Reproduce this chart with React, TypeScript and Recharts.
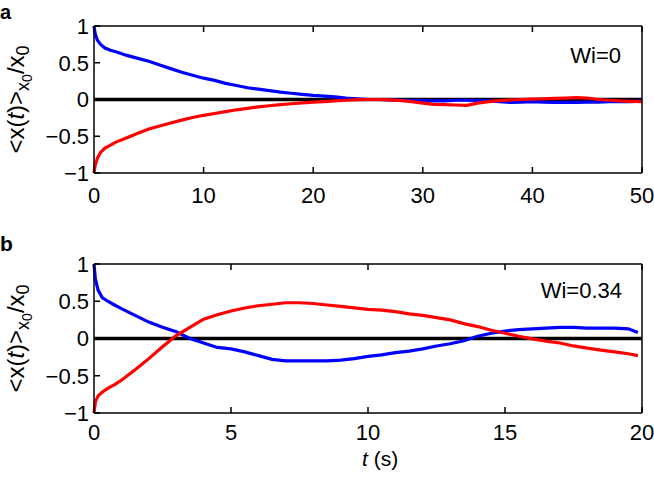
import React from 'react';
import { LineChart, Line, XAxis, YAxis, ReferenceLine, Label } from 'recharts';

// Panel a (Wi=0)
const tA = [0, 0.1, 0.3, 0.6, 1, 1.5, 2, 3, 4, 5, 6, 7, 8, 9, 10, 11, 12, 13, 14, 15, 16, 17, 18, 19, 20, 21, 22, 23, 24, 25, 26, 27, 28, 29, 30, 31, 32, 33, 34, 35, 36, 37, 38, 39, 40, 41, 42, 43, 44, 45, 46, 47, 48, 49, 50];
const blueA = [1.0, 0.9, 0.81, 0.75, 0.7, 0.67, 0.65, 0.6, 0.56, 0.52, 0.47, 0.42, 0.37, 0.33, 0.29, 0.26, 0.22, 0.19, 0.16, 0.14, 0.12, 0.1, 0.085, 0.07, 0.055, 0.045, 0.035, 0.02, 0.01, 0.0, 0.0, -0.005, -0.01, -0.01, -0.015, -0.02, -0.02, -0.01, -0.01, -0.015, -0.02, -0.03, -0.04, -0.035, -0.03, -0.035, -0.04, -0.04, -0.04, -0.035, -0.035, -0.03, -0.03, -0.03, -0.02];
const redA = [-1.0, -0.9, -0.8, -0.72, -0.66, -0.62, -0.58, -0.52, -0.46, -0.4, -0.36, -0.32, -0.28, -0.245, -0.215, -0.19, -0.165, -0.14, -0.12, -0.1, -0.085, -0.07, -0.058, -0.047, -0.037, -0.028, -0.02, -0.01, -0.003, 0.0, 0.0, -0.005, -0.015, -0.03, -0.05, -0.065, -0.07, -0.075, -0.08, -0.05, -0.03, -0.015, -0.005, 0.0, 0.005, 0.01, 0.015, 0.02, 0.025, 0.02, 0.0, -0.01, -0.02, -0.025, -0.03];
const ticksXA = [0, 10, 20, 30, 40, 50];

// Panel b (Wi=0.34)
const tB = [0, 0.05, 0.15, 0.3, 0.5, 0.75, 1, 1.5, 2, 2.5, 3, 3.5, 4, 4.5, 5, 5.5, 6, 6.5, 7, 7.5, 8, 8.5, 9, 9.5, 10, 10.5, 11, 11.5, 12, 12.5, 13, 13.5, 14, 14.5, 15, 15.5, 16, 16.5, 17, 17.5, 18, 18.5, 19, 19.5, 19.85];
const blueB = [1.0, 0.8, 0.65, 0.55, 0.5, 0.45, 0.4, 0.31, 0.22, 0.15, 0.09, 0.0, -0.06, -0.12, -0.14, -0.18, -0.23, -0.28, -0.3, -0.3, -0.3, -0.3, -0.29, -0.27, -0.24, -0.22, -0.19, -0.17, -0.14, -0.1, -0.07, -0.03, 0.03, 0.07, 0.1, 0.12, 0.13, 0.14, 0.15, 0.15, 0.14, 0.14, 0.14, 0.13, 0.08];
const redB = [-1.0, -0.85, -0.77, -0.72, -0.67, -0.62, -0.56, -0.42, -0.27, -0.11, 0.04, 0.15, 0.26, 0.32, 0.37, 0.41, 0.44, 0.46, 0.48, 0.48, 0.47, 0.45, 0.43, 0.41, 0.39, 0.38, 0.36, 0.33, 0.31, 0.28, 0.25, 0.2, 0.16, 0.11, 0.07, 0.03, -0.005, -0.035, -0.06, -0.1, -0.13, -0.155, -0.18, -0.205, -0.23];
const ticksXB = [0, 5, 10, 15, 20];

const ticksY = [-1, -0.5, 0, 0.5, 1];

const rowsA = tA.map((t, i) => ({ t, blue: blueA[i], red: redA[i] }));
const rowsB = tB.map((t, i) => ({ t, blue: blueB[i], red: redB[i] }));

const FONT = '"Liberation Sans", Arial, Helvetica, sans-serif';
const fmt = (v: number) => (v < 0 ? '\u2212' + Math.abs(v) : String(v));
const blank = () => '';
const tickStyle = { fontSize: 22, fill: '#000', fontFamily: FONT };
const frame = { stroke: '#000', strokeWidth: 1.5 };

const YLabel = (props: any) => {
  const vb = props.viewBox || {};
  const cy = (vb.y ?? 26) + (vb.height ?? 147) / 2;
  const x = 24;
  return (
    <text
      x={x}
      y={cy}
      transform={`rotate(-90, ${x}, ${cy})`}
      textAnchor="middle"
      fontSize={24}
      fill="#000"
      fontFamily={FONT}
    >
      <tspan>{'<x('}</tspan>
      <tspan fontStyle="italic">t</tspan>
      <tspan>{')>'}</tspan>
      <tspan fontSize={18} dy={5}>x</tspan>
      <tspan fontSize={14} dy={3}>0</tspan>
      <tspan fontSize={24} dy={-8}>/x</tspan>
      <tspan fontSize={18} dy={5}>0</tspan>
    </text>
  );
};

function Panel({ rows, xMax, xTicks, height, tickMargin }: any) {
  return (
    <LineChart
      width={654}
      height={height}
      data={rows}
      margin={{ top: 25, right: 11, bottom: 25, left: 0 }}
    >
      <XAxis
        dataKey="t"
        type="number"
        domain={[0, xMax]}
        ticks={xTicks}
        interval={0}
        height={27}
        tickSize={-6}
        tickMargin={tickMargin}
        tick={tickStyle}
        tickFormatter={fmt}
        axisLine={frame}
        tickLine={frame}
      />
      <XAxis
        xAxisId="top"
        orientation="top"
        dataKey="t"
        type="number"
        domain={[0, xMax]}
        ticks={xTicks}
        interval={0}
        height={1}
        tickSize={-6}
        tickMargin={0}
        tick={tickStyle}
        tickFormatter={blank}
        axisLine={frame}
        tickLine={frame}
      />
      <YAxis
        type="number"
        domain={[-1, 1]}
        ticks={ticksY}
        interval={0}
        width={94}
        tickSize={-6}
        tickMargin={11}
        tick={tickStyle}
        tickFormatter={fmt}
        axisLine={frame}
        tickLine={frame}
      >
        <Label content={<YLabel />} />
      </YAxis>
      <YAxis
        yAxisId="right"
        orientation="right"
        type="number"
        domain={[-1, 1]}
        ticks={ticksY}
        interval={0}
        width={1}
        tickSize={-6}
        tickMargin={0}
        tick={tickStyle}
        tickFormatter={blank}
        axisLine={frame}
        tickLine={frame}
      />
      <ReferenceLine y={0} stroke="#000" strokeWidth={3.5} />
      <Line
        dataKey="blue"
        type="linear"
        stroke="#0000ff"
        strokeWidth={3.2}
        dot={false}
        isAnimationActive={false}
      />
      <Line
        dataKey="red"
        type="linear"
        stroke="#ff0000"
        strokeWidth={3.2}
        dot={false}
        isAnimationActive={false}
      />
    </LineChart>
  );
}

export default function App() {
  return (
    <div
      style={{
        position: 'absolute',
        left: 0,
        top: 0,
        width: 654,
        height: 477,
        background: '#fff',
        overflow: 'hidden',
      }}
    >
      <div style={{ position: 'absolute', left: 0, top: 0 }}>
        <Panel rows={rowsA} xMax={50} xTicks={ticksXA} height={225} tickMargin={20} />
      </div>
      <div style={{ position: 'absolute', left: 0, top: 238 }}>
        <Panel rows={rowsB} xMax={20} xTicks={ticksXB} height={227} tickMargin={17} />
      </div>
      <svg
        width={654}
        height={477}
        style={{ position: 'absolute', left: 0, top: 0, pointerEvents: 'none' }}
      >
        <text x={0} y={19} fontSize={20} fontWeight="bold" fontFamily={FONT} fill="#000">a</text>
        <text x={0} y={251} fontSize={21} fontWeight="bold" fontFamily={FONT} fill="#000">b</text>
        <text x={621} y={63} textAnchor="end" fontSize={22} fontFamily={FONT} fill="#000">Wi=0</text>
        <text x={622} y={298} textAnchor="end" fontSize={22} fontFamily={FONT} fill="#000">Wi=0.34</text>
        <text x={362} y={466} fontSize={21} fontFamily={FONT} fill="#000">
          <tspan fontStyle="italic">t</tspan>
          <tspan>{' (s)'}</tspan>
        </text>
      </svg>
    </div>
  );
}
